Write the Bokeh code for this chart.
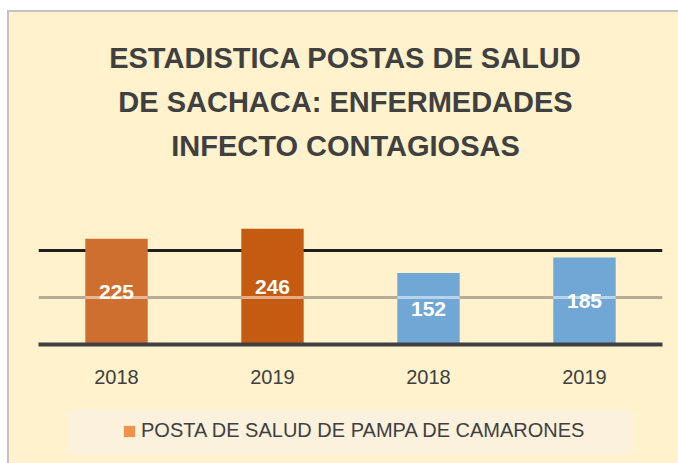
from bokeh.plotting import figure
from bokeh.layouts import column
from bokeh.models import (ColumnDataSource, Range1d, FixedTicker, Grid, Label,
                          Legend, LegendItem, BoxAnnotation)
from bokeh.embed import file_html
from bokeh.resources import INLINE
from bokeh.core.properties import value

# ---- data ----
title_lines = ["ESTADISTICA POSTAS DE SALUD",
               "DE SACHACA: ENFERMEDADES",
               "INFECTO CONTAGIOSAS"]
years = ["2018", "2019", "2018", "2019"]
values = [225, 246, 152, 185]
bar_colors = ["#CF6F2F", "#C55A11", "#71A7D4", "#71A7D4"]
legend_label = "POSTA DE SALUD DE PAMPA DE CAMARONES"
legend_color = "#F0914C"
grid_major = [200]
grid_minor = [100]

# ---- styling constants ----
BG = "#FFF2CC"
TXT = "#404040"
BORDER = "2px solid #C3C3C3"
BAR_W = 0.4
FONT = "Liberation Sans"

xs = list(range(len(values)))
src = ColumnDataSource(dict(
    x=xs, top=values, color=bar_colors,
    label=[str(v) for v in values],
    ymid=[v / 2 for v in values],
    x0=[x - BAR_W / 2 for x in xs],
    x1=[x + BAR_W / 2 for x in xs],
    stripe=[grid_minor[0]] * len(xs),
))

# ---------------- main chart ----------------
p = figure(width=669, height=388,
           x_range=Range1d(-0.5, len(values) - 0.5), y_range=Range1d(0, 706),
           output_backend="svg", toolbar_location=None, title=None,
           min_border_left=29, min_border_right=16,
           min_border_top=0, min_border_bottom=56)
p.background_fill_color = BG
p.border_fill_color = BG
p.outline_line_color = None

p.yaxis.visible = False
p.xgrid.visible = False

ax = p.xaxis[0]
ax.ticker = FixedTicker(ticks=xs)
ax.major_label_overrides = {i: y for i, y in enumerate(years)}
ax.axis_line_color = TXT
ax.axis_line_width = 4
ax.major_tick_line_color = None
ax.minor_tick_line_color = None
ax.major_label_text_font = FONT
ax.major_label_text_font_size = "20px"
ax.major_label_text_color = TXT
ax.major_label_standoff = 19

p.ygrid.ticker = FixedTicker(ticks=grid_major)
p.ygrid.grid_line_color = "#1E1E1E"
p.ygrid.grid_line_width = 3
p.add_layout(Grid(dimension=1, ticker=FixedTicker(ticks=grid_minor),
                  grid_line_color="#B5AD96", grid_line_width=3))

p.vbar(x="x", top="top", bottom=0, width=BAR_W, fill_color="color",
       line_color=None, source=src)
p.segment(x0="x0", y0="stripe", x1="x1", y1="stripe", line_color="white",
          line_alpha=0.5, line_width=3, source=src)
p.text(x="x", y="ymid", text="label", text_color="white",
       text_font=value(FONT), text_font_style="bold",
       text_font_size="21px", text_align="center", text_baseline="middle",
       source=src)

for line, yy in zip(title_lines, [287, 243, 199]):
    p.add_layout(Label(x=307, y=yy, x_units="screen", y_units="screen",
                       text=line, text_align="center", text_baseline="middle",
                       text_font=FONT, text_font_style="bold",
                       text_font_size="29px", text_color=TXT))

# ---------------- legend strip ----------------
p2 = figure(width=669, height=63, x_range=Range1d(0, 624), y_range=Range1d(0, 63),
            output_backend="svg", toolbar_location=None, title=None,
            min_border_left=29, min_border_right=16,
            min_border_top=0, min_border_bottom=0)
p2.axis.visible = False
p2.grid.visible = False
p2.background_fill_color = BG
p2.border_fill_color = BG
p2.outline_line_color = None
p2.add_layout(BoxAnnotation(left=30, right=594, bottom=9, top=54,
                            fill_color="#FBF1DC", fill_alpha=1, line_color=None))
# zero-size placeholder glyph that only feeds the legend swatch
leg_r = p2.vbar(x=[0], top=[0], bottom=0, width=0, fill_color=legend_color,
                line_color=None)
legend = Legend(items=[LegendItem(label=legend_label, renderers=[leg_r])],
                location=(84, 21), padding=0, margin=0,
                glyph_width=14, glyph_height=14, label_standoff=5,
                label_text_font=FONT, label_text_font_size="20px",
                label_text_color=TXT, background_fill_alpha=0,
                border_line_color=None)
p2.add_layout(legend)

layout = column(p, p2, spacing=0, margin=(10, 0, 0, 7),
                styles={"background-color": BG, "border-top": BORDER,
                        "border-left": BORDER})
open("out.html", "w").write(file_html(layout, INLINE))
